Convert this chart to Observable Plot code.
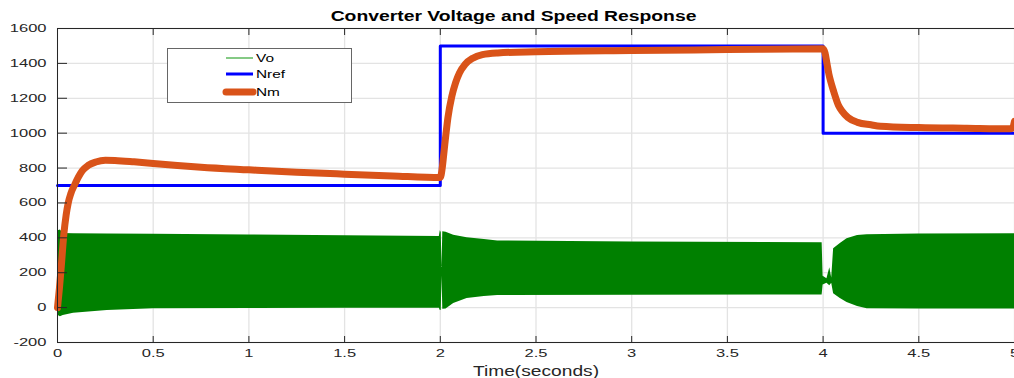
<!DOCTYPE html>
<html><head><meta charset="utf-8">
<script src="https://cdn.jsdelivr.net/npm/d3@7"></script>
<script src="https://cdn.jsdelivr.net/npm/@observablehq/plot@0.6"></script>
<style>
body{margin:0;background:#fff;}
#wrap{position:relative;width:1014px;height:378px;overflow:hidden;font-family:"Liberation Sans",Arial,sans-serif;}
#chart{position:absolute;left:0;top:0;}
#title{position:absolute;left:0;top:8px;width:1027px;text-align:center;font-weight:bold;font-size:14px;line-height:16px;color:#000;white-space:nowrap;}
#title span{display:inline-block;transform:scaleX(1.38);}
#legend{position:absolute;left:167px;top:48px;}
</style></head>
<body><div id="wrap"><div id="chart"></div><div id="title"><span>Converter Voltage and Speed Response</span></div><div id="legend"></div></div>
<script>
// ---- data ----
const xTicks = [0, 0.5, 1, 1.5, 2, 2.5, 3, 3.5, 4, 4.5, 5];
const yTicks = [-200, 0, 200, 400, 600, 800, 1000, 1200, 1400, 1600];
const legendLabels = ["Vo", "Nref", "Nm"];

const nrefTime  = [0, 2, 4, 5];
const nrefValue = [700, 1500, 1000, 1000];

const nmTime  = [0, 0.01, 0.02, 0.033, 0.045, 0.056, 0.07, 0.09, 0.11, 0.13, 0.16, 0.2, 0.25, 0.3, 0.4, 0.5, 0.75, 1.0, 1.25, 1.5, 1.75, 2.0,
                 2.01, 2.02, 2.03, 2.04, 2.06, 2.08, 2.10, 2.13, 2.17, 2.22, 2.3, 2.5, 3.0, 3.5, 4.0,
                 4.01, 4.02, 4.03, 4.04, 4.055, 4.08, 4.1, 4.13, 4.18, 4.25, 4.3, 4.5, 4.75, 4.98, 4.99, 5.0];
const nmValue = [0, 110, 240, 420, 530, 600, 655, 705, 750, 785, 815, 835, 845, 844, 836, 826, 805, 790, 776, 765, 755, 746,
                 800, 900, 1000, 1090, 1210, 1290, 1345, 1395, 1430, 1450, 1460, 1467, 1474, 1479, 1484,
                 1460, 1400, 1340, 1295, 1240, 1160, 1125, 1090, 1062, 1048, 1040, 1032, 1028, 1025, 1030, 1068];

const voTime = [0, 0.004, 0.015, 0.03, 0.084, 0.26, 0.5, 1.0, 1.5, 1.995, 2.0, 2.005, 2.009, 2.013, 2.03, 2.07, 2.14, 2.23, 2.3, 3.0, 3.995,
                4.0, 4.02, 4.035, 4.045, 4.055, 4.09, 4.125, 4.18, 4.23, 4.5, 5.0];
const voLow  = [0, -45, -52, -45, -33, -17, -7, -5, -4, -4, -17, -15, 180, -10, -8, 23, 52, 63, 69, 71, 72,
                130, 140, 126, 140, 80, 52, 30, 6, -6, -8, -8];
const voHigh = [0, 440, 445, 425, 423, 422, 420, 416, 412, 408, 441, 430, 230, 435, 432, 415, 401, 390, 382, 376, 372,
                180, 165, 228, 170, 338, 367, 395, 413, 418, 422, 424];

// ---- tables ----
const nref = nrefTime.map((t, i) => ({t, v: nrefValue[i]}));
const nm = nmTime.map((t, i) => ({t, v: nmValue[i]}));
const vo = voTime.map((t, i) => ({t, lo: voLow[i], hi: voHigh[i]}));

const colors = {Vo: "#008000", Nref: "#0000ff", Nm: "#D95319"};

const plot = Plot.plot({
  width: 1014, height: 378,
  marginLeft: 57, marginRight: 0, marginTop: 28, marginBottom: 36,
  x: {domain: [0, 5]},
  y: {domain: [-200, 1600]},
  style: {fontFamily: "'Liberation Sans', Arial, sans-serif", fontSize: "11px", color: "#262626", background: "#fff", overflow: "visible"},
  marks: [
    Plot.gridX(xTicks, {stroke: "#e3e3e3", strokeOpacity: 1, strokeWidth: 1.3}),
    Plot.gridY(yTicks, {stroke: "#e3e3e3", strokeOpacity: 1, strokeWidth: 1.3}),
    Plot.areaY(vo, {x: "t", y1: "lo", y2: "hi", fill: colors.Vo}),
    Plot.line(nref, {x: "t", y: "v", curve: "step-after", stroke: colors.Nref, strokeWidth: 3}),
    Plot.line(nm, {x: "t", y: "v", curve: "monotone-x", stroke: colors.Nm, strokeWidth: 7, strokeLinecap: "round", strokeLinejoin: "round"}),
    Plot.frame({stroke: "#262626", strokeWidth: 1}),
    Plot.axisX(xTicks, {anchor: "bottom", tickSize: -6, tickPadding: 13, tickFormat: d => String(d), label: null, fontSize: 11, stroke: "#262626"}),
    Plot.axisX(xTicks, {anchor: "top", tickSize: -6, tickFormat: () => "", label: null, stroke: "#262626"}),
    Plot.axisY(yTicks, {anchor: "left", tickSize: -10, tickPadding: 21, tickFormat: d => String(d), label: null, fontSize: 11, stroke: "#262626"}),
    Plot.text(["Time(seconds)"], {frameAnchor: "bottom", dy: 29, lineAnchor: "middle", fontSize: 14, fill: "#262626"})
  ]
});
document.getElementById("chart").appendChild(plot);

// horizontal stretch of text to match the reference's aspect
d3.select(plot).selectAll("text").each(function() {
  const len = this.getComputedTextLength();
  if (!len) return;
  const fs = parseFloat(this.getAttribute("font-size") || getComputedStyle(this).fontSize);
  const k = fs >= 13 ? 1.37 : 1.5;
  this.setAttribute("textLength", len * k);
  this.setAttribute("lengthAdjust", "spacingAndGlyphs");
});

// legend
const lg = d3.select("#legend").append("svg").attr("width", 186).attr("height", 56);
lg.append("rect").attr("x", 0.5).attr("y", 0.5).attr("width", 184).attr("height", 54)
  .attr("fill", "#fff").attr("stroke", "#666").attr("stroke-width", 1);
const rows = [10, 26, 44];
const widths = {Vo: 1.5, Nref: 3, Nm: 7};
const lcol = {Vo: "#5cb85c", Nref: colors.Nref, Nm: colors.Nm};
legendLabels.forEach((name, i) => {
  lg.append("line").attr("x1", 59).attr("x2", 86).attr("y1", rows[i]).attr("y2", rows[i])
    .attr("stroke", lcol[name]).attr("stroke-width", widths[name]).attr("stroke-linecap", name === "Nm" ? "round" : "butt");
  const t = lg.append("text").attr("x", 89).attr("y", rows[i]).attr("dy", "0.36em")
    .attr("font-family", "'Liberation Sans', Arial, sans-serif").attr("font-size", 11).attr("fill", "#000").text(name);
  const n = t.node(); const L = n.getComputedTextLength();
  t.attr("textLength", L * 1.4).attr("lengthAdjust", "spacingAndGlyphs");
});
</script>
</body></html>
